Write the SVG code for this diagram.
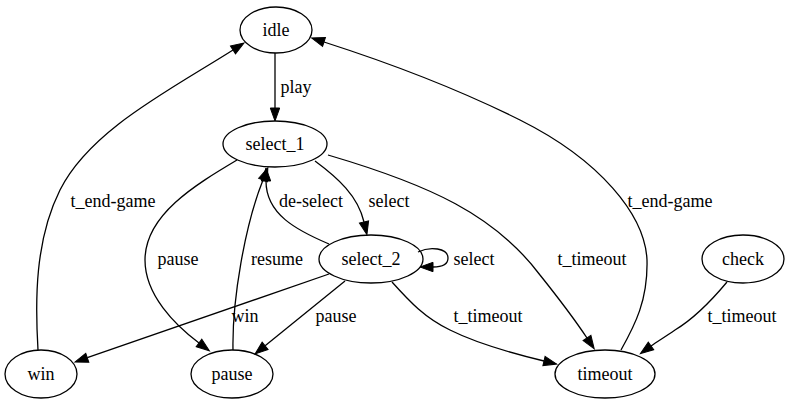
<svg xmlns="http://www.w3.org/2000/svg" width="790" height="403" viewBox="0 0 790 403">
<style>
.node ellipse{fill:none;stroke:#000;stroke-width:1.3}
text{font-family:'Liberation Serif','DejaVu Serif','Noto Serif',serif;font-size:18px;fill:#000;text-anchor:middle}
.edge path{fill:none;stroke:#000;stroke-width:1.3}
.edge path.a{marker-end:url(#arr)}
</style>
<defs>
<marker id="arr" markerUnits="userSpaceOnUse" markerWidth="16" markerHeight="12" refX="0" refY="6" orient="auto" overflow="visible">
<path d="M0,1.3 L13,6 L0,10.7 z" fill="#000" stroke="#000" stroke-width="1"/>
</marker>
</defs>
<rect width="790" height="403" fill="#fff"/>
<g id="edges" class="edge" font-family="Liberation Serif, serif">
<path class="a" d="M275,53 L275,108"/>
<text x="296" y="93">play</text>
<path class="a" d="M315,161 C338,178 358,196 364,222"/>
<text x="389" y="207">select</text>
<path class="a" d="M329,244 C296,230 266,214 266,181"/>
<text x="311" y="207">de-select</text>
<path class="a" d="M418,252 C430,246 448,248 448,258 C448,265 440,267 433,267"/>
<text x="474" y="265">select</text>
<path class="a" d="M237,160 C195,185 145,215 145,260 C145,295 175,325 199,343"/>
<text x="178" y="265">pause</text>
<path class="a" d="M233,350 C232,300 245,225 263,180"/>
<text x="277" y="265">resume</text>
<path class="a" d="M329,274 L87.3,357.7"/>
<text x="245" y="322">win</text>
<path class="a" d="M345,281 L265.1,345.8"/>
<text x="336" y="322">pause</text>
<path class="a" d="M392,282 C410,302 425,318 450,330 C480,345 515,354 544,361"/>
<text x="488" y="322">t_timeout</text>
<path class="a" d="M328,155 C430,185 495,215 540,275 C560,300 575,320 587,338"/>
<text x="592" y="265">t_timeout</text>
<path class="a" d="M621,350 C635,325 648,300 647,260 C645,215 600,160 520,120 C450,85 380,60 324,42"/>
<text x="670" y="207">t_end-game</text>
<path class="a" d="M38,350 C35,300 35,240 60,190 C90,130 170,90 233,50"/>
<text x="113" y="207">t_end-game</text>
<path class="a" d="M727,282 C712,300 695,318 675,330 C665,337 658,341 651,346"/>
<text x="742" y="322">t_timeout</text>
</g>
<g id="idle" class="node"><ellipse cx="276" cy="30" rx="36" ry="23"/><text x="276" y="36">idle</text></g>
<g id="select_1" class="node"><ellipse cx="275" cy="144" rx="52" ry="23"/><text x="275" y="150">select_1</text></g>
<g id="select_2" class="node"><ellipse cx="371" cy="259" rx="52" ry="24"/><text x="371" y="265">select_2</text></g>
<g id="pause" class="node"><ellipse cx="232" cy="374" rx="41" ry="24"/><text x="232" y="380">pause</text></g>
<g id="win" class="node"><ellipse cx="41" cy="374" rx="36" ry="24"/><text x="41" y="380">win</text></g>
<g id="timeout" class="node"><ellipse cx="605" cy="374" rx="50" ry="24"/><text x="605" y="380">timeout</text></g>
<g id="check" class="node"><ellipse cx="743" cy="259" rx="41" ry="24"/><text x="743" y="265">check</text></g>
</svg>
